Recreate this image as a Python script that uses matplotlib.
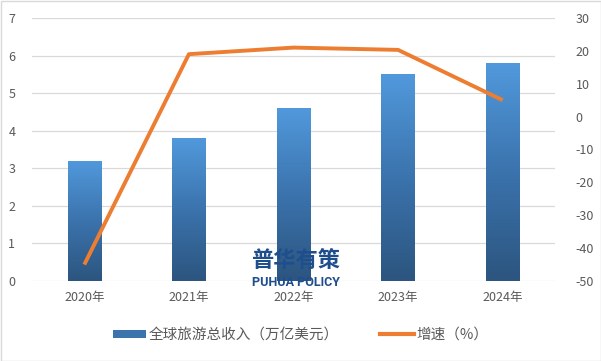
import matplotlib
matplotlib.use("Agg")
import matplotlib.pyplot as plt
import numpy as np
from matplotlib.colors import LinearSegmentedColormap
from matplotlib.lines import Line2D
from matplotlib.patches import Rectangle

plt.rcParams['font.family'] = ['Noto Sans CJK SC', 'DejaVu Sans']
plt.rcParams['axes.unicode_minus'] = False

years = ["2020年", "2021年", "2022年", "2023年", "2024年"]
revenue = [3.2, 3.8, 4.6, 5.5, 5.8]
growth = [-45, 19, 21, 20.3, 5]
bar_label = "全球旅游总收入（万亿美元）"
line_label = "增速（%）"

fig = plt.figure(figsize=(6.01, 3.61), dpi=100)
ax = fig.add_axes([32/601, 1-281/361, (555-32)/601, (281-18)/361])
ax2 = ax.twinx()

x = np.arange(len(years))
bw = 0.32
bars = ax.bar(x, revenue, width=bw, color='none', zorder=2)
cmap = LinearSegmentedColormap.from_list("g", ["#2c557f", "#3b73ad", "#5199dc"])
grad = np.linspace(0, 1, 256).reshape(-1, 1)
for b in bars:
    x0, y0 = b.get_x(), b.get_y()
    w, h = b.get_width(), b.get_height()
    im = ax.imshow(grad, cmap=cmap, origin='lower', aspect='auto',
                   extent=[x0, x0 + w, y0, y0 + h], zorder=2)
    im.set_clip_path(b)

ax.set_xlim(-0.5, 4.5)
ax.set_ylim(0, 7)
ax.set_yticks(range(0, 8))
ax.grid(axis='y', color='#d9d9d9', linewidth=0.9, zorder=0)
ax.set_axisbelow(True)
ax.set_xticks(x)
ax.set_xticklabels(years)
for a in (ax, ax2):
    for s in a.spines.values():
        s.set_visible(False)
    a.tick_params(length=0, labelsize=9, colors='#595959')
ax.tick_params(axis='x', pad=7)
ax.tick_params(axis='y', pad=12)

ax2.plot(x, growth, color='#ed7d31', linewidth=2.8, solid_capstyle='butt', zorder=3)
ax2.set_ylim(-50, 30)
ax2.set_yticks(range(-50, 31, 10))
ax2.tick_params(axis='y', pad=15)

# watermark
fig.text(296/601, 1-260/361, "普华有策", ha='center', va='center', fontsize=16,
         fontweight='bold', color='#1f4e8c', zorder=5)
fig.text(296/601, 1-283/361, "PUHUA POLICY", ha='center', va='center', fontsize=9,
         fontweight='bold', color='#1f4e8c', family=['Roboto', 'DejaVu Sans'],
         fontstretch='condensed', zorder=5)

handles = [Rectangle((0, 0), 1, 1, facecolor='#3b73ad', edgecolor='none'),
           Line2D([0], [0], color='#ed7d31', linewidth=3)]
fig.legend(handles, [bar_label, line_label], loc='center', bbox_to_anchor=(0.5, 1-335/361),
           ncol=2, frameon=False, fontsize=10.5, labelcolor='#595959', columnspacing=2.8,
           handlelength=2.3, handleheight=0.45, handletextpad=0.2)

fig.patches.append(Rectangle((0.5/601, 0.5/361), 1-1/601, 1-1/361, transform=fig.transFigure,
                             fill=False, edgecolor='#d9d9d9', linewidth=1))

fig.savefig("out.png", dpi=100)
